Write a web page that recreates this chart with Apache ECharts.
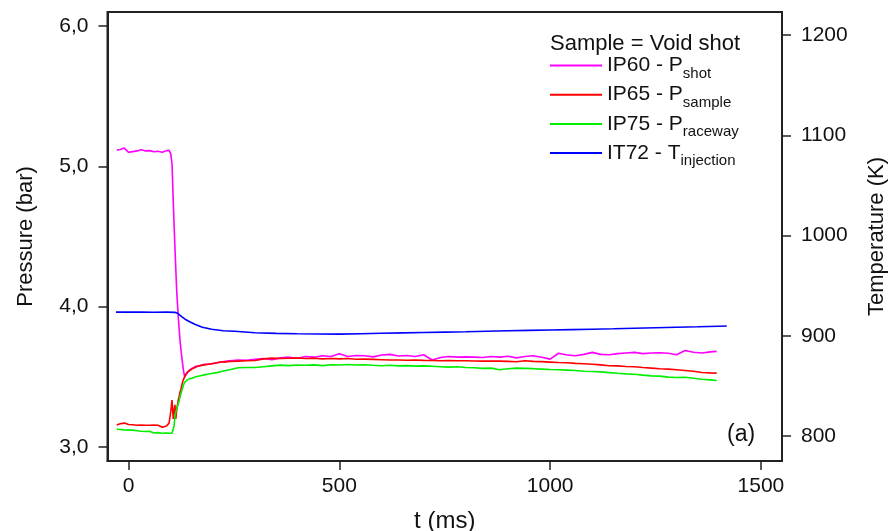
<!DOCTYPE html>
<html>
<head>
<meta charset="utf-8">
<script src="https://cdn.jsdelivr.net/npm/echarts@6/dist/echarts.min.js"></script>
<style>html,body{margin:0;padding:0;background:#fff}#c{width:891px;height:531px}</style>
</head>
<body>
<div id="c"></div>
<script>
// ---- data ----
const tP = [-28,-20,-10,0,10,20,30,40,50,60,70,80,90,96,100,103,106,108,110,112,114,116,118,120,122,124,127,130,133,136,140,145,150,160,170,180,190,200,210,220,230,
  240,260,280,300,320,340,360,380,400,420,440,460,480,500,520,540,560,580,600,620,640,660,680,700,720,740,760,780,800,820,840,860,880,900,920,940,960,980,1000,1020,1040,1060,1080,1100,1120,1140,1160,1180,1200,1220,1240,1260,1280,1300,1320,1340,1360,1380,1395];
const pShot = [5.115,5.12,5.13,5.10,5.105,5.11,5.118,5.11,5.112,5.104,5.108,5.10,5.112,5.114,5.09,5.02,4.75,4.58,4.42,4.27,4.12,4.02,3.92,3.84,3.76,3.70,3.62,3.55,3.50,3.51,3.53,3.55,3.56,3.575,3.58,3.59,3.59,3.595,3.60,3.605,3.61,
  3.615,3.62,3.618,3.625,3.63,3.622,3.635,3.64,3.632,3.645,3.64,3.65,3.645,3.664,3.645,3.652,3.65,3.642,3.655,3.66,3.648,3.652,3.645,3.657,3.62,3.638,3.645,3.64,3.642,3.64,3.638,3.645,3.64,3.646,3.635,3.645,3.65,3.64,3.626,3.668,3.655,3.65,3.66,3.674,3.66,3.657,3.665,3.67,3.674,3.665,3.67,3.672,3.668,3.657,3.688,3.675,3.67,3.678,3.681];
const pSample = [3.157,3.165,3.17,3.16,3.158,3.155,3.156,3.155,3.155,3.156,3.155,3.14,3.15,3.17,3.25,3.335,3.20,3.26,3.30,3.20,3.26,3.30,3.336,3.36,3.39,3.41,3.45,3.48,3.50,3.52,3.535,3.545,3.555,3.57,3.58,3.585,3.59,3.595,3.60,3.607,3.605,
  3.61,3.612,3.615,3.616,3.628,3.633,3.63,3.632,3.634,3.63,3.632,3.628,3.63,3.628,3.63,3.625,3.626,3.624,3.622,3.62,3.62,3.618,3.62,3.617,3.616,3.615,3.616,3.614,3.615,3.613,3.612,3.613,3.612,3.61,3.607,3.614,3.61,3.608,3.605,3.602,3.60,3.596,3.593,3.59,3.585,3.579,3.578,3.574,3.572,3.566,3.562,3.558,3.555,3.55,3.545,3.54,3.531,3.528,3.526];
const pRaceway = [3.126,3.125,3.122,3.12,3.12,3.116,3.112,3.11,3.112,3.10,3.102,3.098,3.10,3.098,3.098,3.098,3.10,3.15,3.217,3.25,3.27,3.29,3.31,3.33,3.355,3.38,3.41,3.44,3.46,3.47,3.48,3.487,3.49,3.50,3.508,3.514,3.52,3.525,3.53,3.538,3.545,
  3.55,3.565,3.566,3.566,3.572,3.578,3.583,3.58,3.584,3.582,3.585,3.58,3.586,3.584,3.588,3.584,3.586,3.582,3.579,3.582,3.578,3.58,3.576,3.578,3.575,3.572,3.569,3.572,3.566,3.565,3.56,3.562,3.55,3.558,3.562,3.56,3.558,3.555,3.552,3.55,3.548,3.545,3.54,3.538,3.535,3.53,3.525,3.521,3.518,3.512,3.507,3.505,3.498,3.495,3.497,3.49,3.483,3.478,3.474];
const tT = [-30,0,30,60,90,110,116,120,126,134,145,157,175,197,225,252,300,350,400,450,500,550,600,650,700,750,800,850,900,950,1000,1050,1100,1150,1200,1250,1300,1350,1400,1419];
const tInjection = [923.5,923.5,923.6,923.4,923.5,923.3,922.5,921,919,916.5,914,911.5,908.5,906.4,905,904.4,903,902.3,901.9,901.7,901.6,902,902.4,902.8,903.2,903.6,904,904.5,904.9,905.3,905.7,906.1,906.5,906.9,907.4,907.9,908.4,908.9,909.5,909.7];
const xTicks = [0,500,1000,1500];
const pTicks = [3,4,5,6];
const tTicks = [800,900,1000,1100,1200];
const seriesNames = ['IP60 - P_shot','IP65 - P_sample','IP75 - P_raceway','IT72 - T_injection'];
const seriesColors = ['#ff00ff','#ff0000','#00ee00','#0000ff'];

// ---- chart ----
const FONT = '"Liberation Sans", Arial, sans-serif';
const pairs = (xs, ys) => xs.map((x, i) => [x, ys[i]]);
const chart = echarts.init(document.getElementById('c'), null, {renderer: 'canvas'});
const axisLine = {show: true, onZero: false, lineStyle: {color: '#222', width: 2}};
const tickStyle = {color: '#222', width: 1.5};
const comma = v => Number(v).toFixed(1).replace('.', ',');
const plain = v => String(Math.round(v));

chart.setOption({
  animation: false,
  backgroundColor: '#fff',
  textStyle: {fontFamily: FONT},
  title: [
    {text: 'Sample = Void shot', left: 550, top: 33, padding: 0,
     textStyle: {fontFamily: FONT, fontSize: 22, fontWeight: 'normal', color: '#111'}},
    {text: '(a)', left: 727, top: 423, padding: 0,
     textStyle: {fontFamily: FONT, fontSize: 23, fontWeight: 'normal', color: '#111'}}
  ],
  grid: {left: 107.5, right: 109, top: 12, bottom: 70, show: true, borderColor: '#222', borderWidth: 2,
         containLabel: false, outerBoundsMode: 'none'},
  legend: {
    orient: 'vertical', left: 550, top: 50, padding: 0, itemGap: -1.8,
    itemWidth: 52, itemHeight: 2, icon: 'rect',
    data: seriesNames,
    formatter: name => { const p = name.split('_'); return '{n|' + p[0] + '}{s|' + p[1] + '}'; },
    textStyle: {fontFamily: FONT, color: '#111',
      rich: {n: {fontFamily: FONT, fontSize: 21, lineHeight: 29, color: '#111'},
             s: {fontFamily: FONT, fontSize: 15, lineHeight: 13, padding: [16, 0, 0, 0], color: '#111'}}}
  },
  xAxis: {
    type: 'value', min: -50, max: 1550,
    name: 't (ms)', nameLocation: 'middle', nameGap: 48,
    nameTextStyle: {fontFamily: FONT, fontSize: 24, color: '#111'},
    axisLine: axisLine,
    axisTick: {show: true, inside: false, length: 9, lineStyle: tickStyle, customValues: xTicks},
    axisLabel: {fontFamily: FONT, fontSize: 21, color: '#111', margin: 15, formatter: plain, customValues: xTicks},
    splitLine: {show: false}
  },
  yAxis: [
    {type: 'value', min: 2.9, max: 6.1, position: 'left',
     name: 'Pressure (bar)', nameLocation: 'middle', nameGap: 71,
     nameTextStyle: {fontFamily: FONT, fontSize: 22, color: '#111'},
     axisLine: axisLine,
     axisTick: {show: true, length: 9, lineStyle: tickStyle, customValues: pTicks},
     axisLabel: {fontFamily: FONT, fontSize: 21, color: '#111', margin: 19, formatter: comma, customValues: pTicks},
     splitLine: {show: false}},
    {type: 'value', min: 775, max: 1223, position: 'right',
     name: 'Temperature (K)', nameLocation: 'middle', nameGap: 84,
     nameTextStyle: {fontFamily: FONT, fontSize: 22, color: '#111'},
     axisLine: axisLine,
     axisTick: {show: true, length: 9, lineStyle: tickStyle, customValues: tTicks},
     axisLabel: {fontFamily: FONT, fontSize: 21, color: '#111', margin: 19, formatter: plain, customValues: tTicks},
     splitLine: {show: false}}
  ],
  series: [
    {name: seriesNames[0], type: 'line', yAxisIndex: 0, data: pairs(tP, pShot), showSymbol: false, color: seriesColors[0], lineStyle: {width: 1.6}},
    {name: seriesNames[1], type: 'line', yAxisIndex: 0, data: pairs(tP, pSample), showSymbol: false, color: seriesColors[1], lineStyle: {width: 1.6}},
    {name: seriesNames[2], type: 'line', yAxisIndex: 0, data: pairs(tP, pRaceway), showSymbol: false, color: seriesColors[2], lineStyle: {width: 1.6}},
    {name: seriesNames[3], type: 'line', yAxisIndex: 1, data: pairs(tT, tInjection), showSymbol: false, color: seriesColors[3], lineStyle: {width: 1.6}}
  ]
});
</script>
</body>
</html>
